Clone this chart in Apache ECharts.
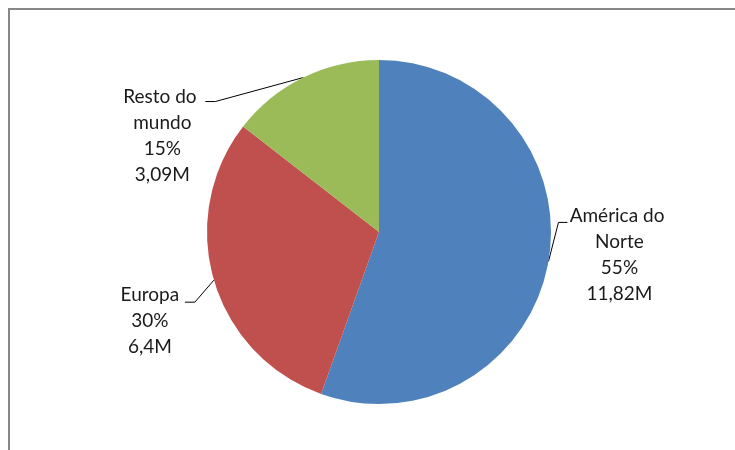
<!DOCTYPE html>
<html>
<head>
<meta charset="utf-8">
<script src="https://cdn.jsdelivr.net/npm/echarts@6/dist/echarts.min.js"></script>
<style>
  html, body { margin: 0; padding: 0; background: #fff; }
  #chart { width: 735px; height: 450px; }
</style>
</head>
<body>
<div id="chart"></div>
<script>
// Regions and their values (millions)
const regions = ['América do Norte', 'Europa', 'Resto do mundo'];
const values = [11.82, 6.4, 3.09];
const colors = ['#4F81BD', '#C0504D', '#9BBB59'];

// Label placement relative to the slice edge point: label centre offset and leader-line elbow/end offsets
const labelOffsets = [
  { dx: 71, dy: -7, elbow: [10, -39], end: [19, -39] },
  { dx: -64, dy: 41, elbow: [-19, 22], end: [-29, 22] },
  { dx: -141, dy: 58, elbow: [-88, 24], end: [-98, 24] }
];

const fmtNum = v => String(v).replace('.', ',') + 'M';

const chart = echarts.init(document.getElementById('chart'), null, { renderer: 'canvas' });
chart.setOption({
  animation: false,
  backgroundColor: '#ffffff',
  graphic: [{
    type: 'rect',
    shape: { x: 9, y: 9, width: 800, height: 500 },
    style: { fill: 'none', stroke: '#878787', lineWidth: 2 },
    silent: true
  }],
  series: [{
    type: 'pie',
    center: [379, 232],
    radius: 172,
    startAngle: 90,
    clockwise: true,
    percentPrecision: 0,
    data: regions.map((n, i) => ({ name: n, value: values[i], itemStyle: { color: colors[i] } })),
    itemStyle: { borderWidth: 0 },
    label: {
      show: true,
      position: 'outside',
      formatter: p => p.name + '\n' + p.percent + '%\n' + fmtNum(p.value),
      width: 115,
      overflow: 'break',
      align: 'center',
      fontFamily: 'Lato, "Open Sans", sans-serif',
      fontSize: 19,
      lineHeight: 26,
      color: '#1a1a1a'
    },
    labelLine: {
      show: true,
      lineStyle: { color: '#000', width: 1 }
    },
    labelLayout: function (params) {
      const o = labelOffsets[params.dataIndex];
      const p0 = params.labelLinePoints[0];
      return {
        x: p0[0] + o.dx,
        y: p0[1] + o.dy,
        align: 'center',
        verticalAlign: 'middle',
        labelLinePoints: [
          [p0[0], p0[1]],
          [p0[0] + o.elbow[0], p0[1] + o.elbow[1]],
          [p0[0] + o.end[0], p0[1] + o.end[1]]
        ]
      };
    }
  }]
});
</script>
</body>
</html>
